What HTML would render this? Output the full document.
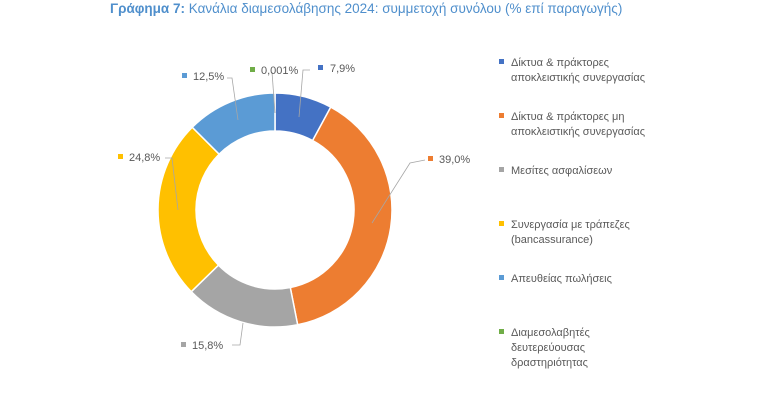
<!DOCTYPE html>
<html><head><meta charset="utf-8"><style>
body{margin:0;background:#fff;width:775px;height:414px;overflow:hidden;font-family:"Liberation Sans","DejaVu Sans",sans-serif}
</style></head><body>
<svg width="775" height="414" xmlns="http://www.w3.org/2000/svg" font-family="Liberation Sans, DejaVu Sans, sans-serif">
<text x="110" y="13" font-size="13.5" fill="#4f8fcc"><tspan font-weight="bold">Γράφημα 7:</tspan> Κανάλια διαμεσολάβησης 2024: συμμετοχή συνόλου (% επί παραγωγής)</text>
<g stroke="#fff" stroke-width="1.5">
<path d="M275,93 A117,117 0 0 1 330.73,107.12 L312.63,140.54 A79,79 0 0 0 275,131 Z" fill="#4472c4"/>
<path d="M330.73,107.12 A117,117 0 0 1 297.65,324.79 L290.29,287.51 A79,79 0 0 0 312.63,140.54 Z" fill="#ed7d31"/>
<path d="M297.65,324.79 A117,117 0 0 1 191.24,291.69 L218.44,265.16 A79,79 0 0 0 290.29,287.51 Z" fill="#a5a5a5"/>
<path d="M191.24,291.69 A117,117 0 0 1 192.27,127.27 L219.14,154.14 A79,79 0 0 0 218.44,265.16 Z" fill="#ffc000"/>
<path d="M192.27,127.27 A117,117 0 0 1 275,93 L275,131 A79,79 0 0 0 219.14,154.14 Z" fill="#5b9bd5"/>
</g>
<g stroke="#a6a6a6" stroke-width="0.8" fill="none">
<polyline points="310,70 303,70 299,117"/>
<polyline points="272,72 275,113"/>
<polyline points="227,78 232,78 238,120"/>
<polyline points="165,158 172,158 178,210"/>
<polyline points="425,160 410,163 372,223"/>
<polyline points="232,345 240,345 243,323"/>
</g>
<g font-size="11" fill="#595959">
<rect x="318" y="65" width="5" height="5" fill="#4472c4"/><text x="330" y="72">7,9%</text>
<rect x="250" y="67" width="5" height="5" fill="#70ad47"/><text x="261" y="74">0,001%</text>
<rect x="182" y="73" width="5" height="5" fill="#5b9bd5"/><text x="193" y="80">12,5%</text>
<rect x="118" y="154" width="5" height="5" fill="#ffc000"/><text x="129" y="161">24,8%</text>
<rect x="428" y="156" width="5" height="5" fill="#ed7d31"/><text x="439" y="163">39,0%</text>
<rect x="181" y="342" width="5" height="5" fill="#a5a5a5"/><text x="192" y="349">15,8%</text>
</g>
<g font-size="11" fill="#595959">
<rect x="499" y="59" width="5" height="5" fill="#4472c4"/><text x="511" y="66">Δίκτυα &amp; πράκτορες</text><text x="511" y="81">αποκλειστικής συνεργασίας</text>
<rect x="499" y="113" width="5" height="5" fill="#ed7d31"/><text x="511" y="120">Δίκτυα &amp; πράκτορες μη</text><text x="511" y="135">αποκλειστικής συνεργασίας</text>
<rect x="499" y="167" width="5" height="5" fill="#a5a5a5"/><text x="511" y="174">Μεσίτες ασφαλίσεων</text>
<rect x="499" y="221" width="5" height="5" fill="#ffc000"/><text x="511" y="228">Συνεργασία με τράπεζες</text><text x="511" y="243">(bancassurance)</text>
<rect x="499" y="275" width="5" height="5" fill="#5b9bd5"/><text x="511" y="282">Απευθείας πωλήσεις</text>
<rect x="499" y="329" width="5" height="5" fill="#70ad47"/><text x="511" y="336">Διαμεσολαβητές</text><text x="511" y="351">δευτερεύουσας</text><text x="511" y="366">δραστηριότητας</text>
</g>
</svg>
</body></html>
